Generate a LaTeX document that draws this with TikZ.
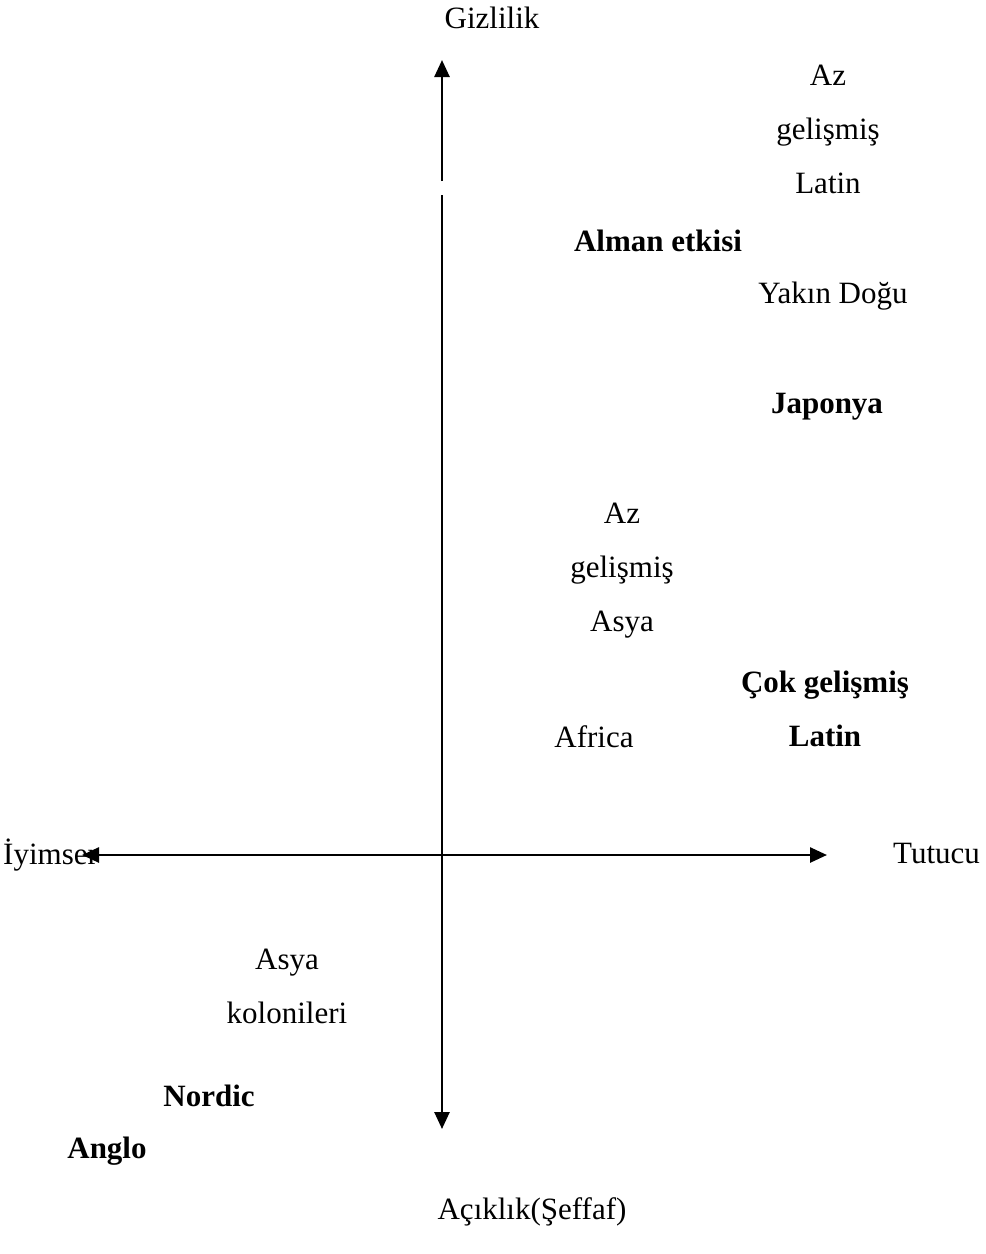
\documentclass[tikz,border=0pt]{standalone}
\usepackage{fontspec}
\setmainfont{Liberation Serif}
\usetikzlibrary{arrows.meta, positioning}
\tikzset{
  etiquette/.style={font=\fontsize{31}{54}\selectfont, align=center, inner sep=0pt},
  gras/.style={etiquette, font=\fontsize{31}{54}\selectfont\bfseries},
  axe/.style={line width=2.6pt, color=black},
  fleche/.style={axe, -{Triangle[length=17pt, width=15pt]}},
  double fleche/.style={axe, {Triangle[length=17pt, width=15pt]}-{Triangle[length=17pt, width=15pt]}}
}
\begin{document}
\begin{tikzpicture}[x=1pt, y=-1pt]
    \useasboundingbox (0,0) rectangle (986,1254);
    % axes
    \coordinate (haut) at (442,60);
    \coordinate (coupure1) at (442,181);
    \coordinate (coupure2) at (442,195);
    \coordinate (bas) at (442,1129);
    \coordinate (gauche) at (82,855);
    \coordinate (droite) at (827,855);
    \draw[fleche] (coupure1) -- (haut);
    \draw[fleche] (coupure2) -- (bas);
    \draw[double fleche] (gauche) -- (droite);

    \node[etiquette] (gizlilik) at (492,18) {Gizlilik};
    \node[etiquette] (aciklik) at (532,1212) {Açıklık(Şeffaf)};
    \node[etiquette, anchor=west] (iyimser) at (3,855) {İyimser};
    \node[etiquette, anchor=west] (tutucu) at (893,853) {Tutucu};

    % gruplar
    \node[etiquette] (azlatin) at (828,129) {Az\\ gelişmiş\\ Latin};
    \node[gras] (alman) at (658,241) {Alman etkisi};
    \node[etiquette] (yakindogu) at (833,296) {Yakın Doğu};
    \node[gras] (japonya) at (827,407) {Japonya};
    \node[etiquette] (azasya) at (622,571) {Az\\ gelişmiş\\ Asya};
    \node[gras] (coklatin) at (825,709) {Çok gelişmiş\\ Latin};
    \node[etiquette] (africa) at (594,737) {Africa};
    \node[etiquette] (koloni) at (287,986) {Asya\\ kolonileri};
    \node[gras] (nordic) at (209,1096) {Nordic};
    \node[gras] (anglo) at (107,1151) {Anglo};
\end{tikzpicture}
\end{document}
